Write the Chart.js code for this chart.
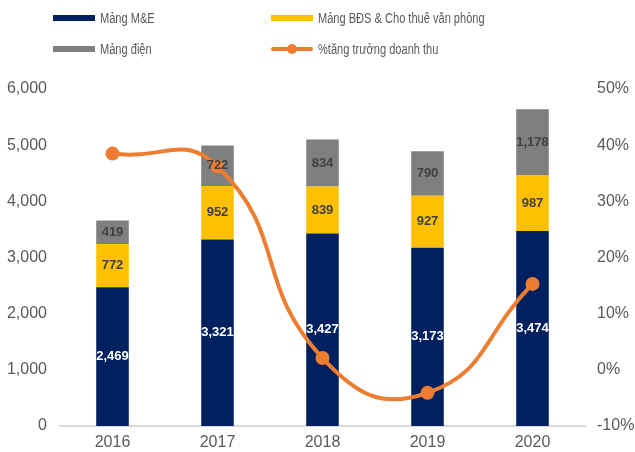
<!DOCTYPE html>
<html>
<head>
<meta charset="utf-8">
<script src="https://cdn.jsdelivr.net/npm/chart.js@4.4.1/dist/chart.umd.min.js"></script>
<style>
  html, body { margin: 0; padding: 0; background: #fff; }
  #wrap { position: relative; width: 635px; height: 452px; }
  canvas { position: absolute; left: 0; top: 0; }
  .lg { position: absolute; font-family: "Liberation Sans", Arial, sans-serif; font-size: 14px; color: #595959; white-space: nowrap; line-height: 16px; transform: scaleX(0.79); transform-origin: 0 50%; }
  .sw { position: absolute; height: 6px; }
</style>
</head>
<body>
<div id="wrap">
  <canvas id="c" width="635" height="452"></canvas>
</div>
<script>
const categories = ["2016", "2017", "2018", "2019", "2020"];
const seriesNames = ["Mảng M&E", "Mảng BĐS & Cho thuê văn phòng", "Mảng điện", "%tăng trưởng doanh thu"];
const meValues = [2469, 3321, 3427, 3173, 3474];
const bdsValues = [772, 952, 839, 927, 987];
const dienValues = [419, 722, 834, 790, 1178];
const growthValues = [38.5, 36.2, 2.1, -4.1, 15.3];
const leftTicks = [0, 1000, 2000, 3000, 4000, 5000, 6000];
const rightTicks = [-10, 0, 10, 20, 30, 40, 50];

const colors = ["#002060", "#FFC000", "#7F7F7F", "#ED7D31"];
const labelColors = ["#FFFFFF", "#404040", "#404040"];

// HTML legend
const wrap = document.getElementById('wrap');
const legendItems = [
  {name: seriesNames[0], color: colors[0], x: 53, y: 18, line: false},
  {name: seriesNames[1], color: colors[1], x: 271, y: 18, line: false},
  {name: seriesNames[2], color: colors[2], x: 53, y: 49, line: false},
  {name: seriesNames[3], color: colors[3], x: 271, y: 49, line: true}
];
legendItems.forEach(it => {
  const sw = document.createElement('div');
  sw.className = 'sw';
  sw.style.left = it.x + 'px';
  sw.style.width = '42px';
  sw.style.background = it.color;
  if (it.line) {
    sw.style.height = '4px';
    sw.style.top = (it.y - 2) + 'px';
    sw.style.borderRadius = '2px';
    const dot = document.createElement('div');
    dot.style.position = 'absolute';
    dot.style.left = (it.x + 21 - 5) + 'px';
    dot.style.top = (it.y - 5) + 'px';
    dot.style.width = '10px';
    dot.style.height = '10px';
    dot.style.borderRadius = '50%';
    dot.style.background = it.color;
    wrap.appendChild(sw);
    wrap.appendChild(dot);
  } else {
    sw.style.top = (it.y - 3) + 'px';
    wrap.appendChild(sw);
  }
  const t = document.createElement('div');
  t.className = 'lg';
  t.textContent = it.name;
  t.style.left = (it.x + 47) + 'px';
  t.style.top = (it.y - 8) + 'px';
  wrap.appendChild(t);
});

const fmt = v => v.toLocaleString('en-US');

const labelPlugin = {
  id: 'segLabels',
  afterDatasetsDraw(chart) {
    const ctx = chart.ctx;
    ctx.save();
    ctx.font = 'bold 13px "Liberation Sans", Arial, sans-serif';
    ctx.textAlign = 'center';
    ctx.textBaseline = 'middle';
    [0, 1, 2].forEach(di => {
      const meta = chart.getDatasetMeta(di);
      const data = chart.data.datasets[di].data;
      meta.data.forEach((bar, i) => {
        const p = bar.getProps(['x', 'y', 'base'], true);
        ctx.fillStyle = labelColors[di];
        ctx.fillText(fmt(data[i]), p.x, (p.y + p.base) / 2);
      });
    });
    ctx.restore();
  }
};

const tickFont = { family: '"Liberation Sans", Arial, sans-serif', size: 16 };

new Chart(document.getElementById('c'), {
  data: {
    labels: categories,
    datasets: [
      { type: 'bar', label: seriesNames[0], data: meValues, backgroundColor: colors[0], yAxisID: 'y', stack: 's', order: 1, barPercentage: 0.62, categoryPercentage: 0.5 },
      { type: 'bar', label: seriesNames[1], data: bdsValues, backgroundColor: colors[1], yAxisID: 'y', stack: 's', order: 1, barPercentage: 0.62, categoryPercentage: 0.5 },
      { type: 'bar', label: seriesNames[2], data: dienValues, backgroundColor: colors[2], yAxisID: 'y', stack: 's', order: 1, barPercentage: 0.62, categoryPercentage: 0.5 },
      { type: 'line', label: seriesNames[3], data: growthValues, borderColor: colors[3], backgroundColor: colors[3], borderWidth: 4, pointRadius: 7, pointHoverRadius: 7, pointBackgroundColor: colors[3], pointBorderWidth: 0, tension: 0.5, yAxisID: 'y1', order: 0, clip: false }
    ]
  },
  options: {
    responsive: false,
    animation: false,
    devicePixelRatio: 1,
    layout: { padding: { top: 89, left: 0, right: 0, bottom: 0 } },
    plugins: { legend: { display: false }, tooltip: { enabled: false } },
    scales: {
      x: {
        stacked: true,
        grid: { display: false, drawTicks: false },
        border: { display: true, color: '#D9D9D9', width: 2 },
        ticks: { color: '#595959', font: tickFont, padding: 7 },
        afterFit: s => { s.height = 26; }
      },
      y: {
        stacked: true,
        position: 'left',
        min: 0, max: 6000,
        afterBuildTicks: s => { s.ticks = leftTicks.map(v => ({ value: v })); },
        grid: { display: false, drawTicks: false },
        border: { display: false },
        ticks: { color: '#595959', font: tickFont, padding: 13, callback: v => fmt(v) },
        afterFit: s => { s.width = 60; }
      },
      y1: {
        position: 'right',
        min: -10, max: 50,
        afterBuildTicks: s => { s.ticks = rightTicks.map(v => ({ value: v })); },
        grid: { display: false, drawTicks: false },
        border: { display: false },
        ticks: { color: '#595959', font: tickFont, padding: 12, callback: v => v + '%' },
        afterFit: s => { s.width = 50; }
      }
    }
  },
  plugins: [labelPlugin]
});
</script>
</body>
</html>
